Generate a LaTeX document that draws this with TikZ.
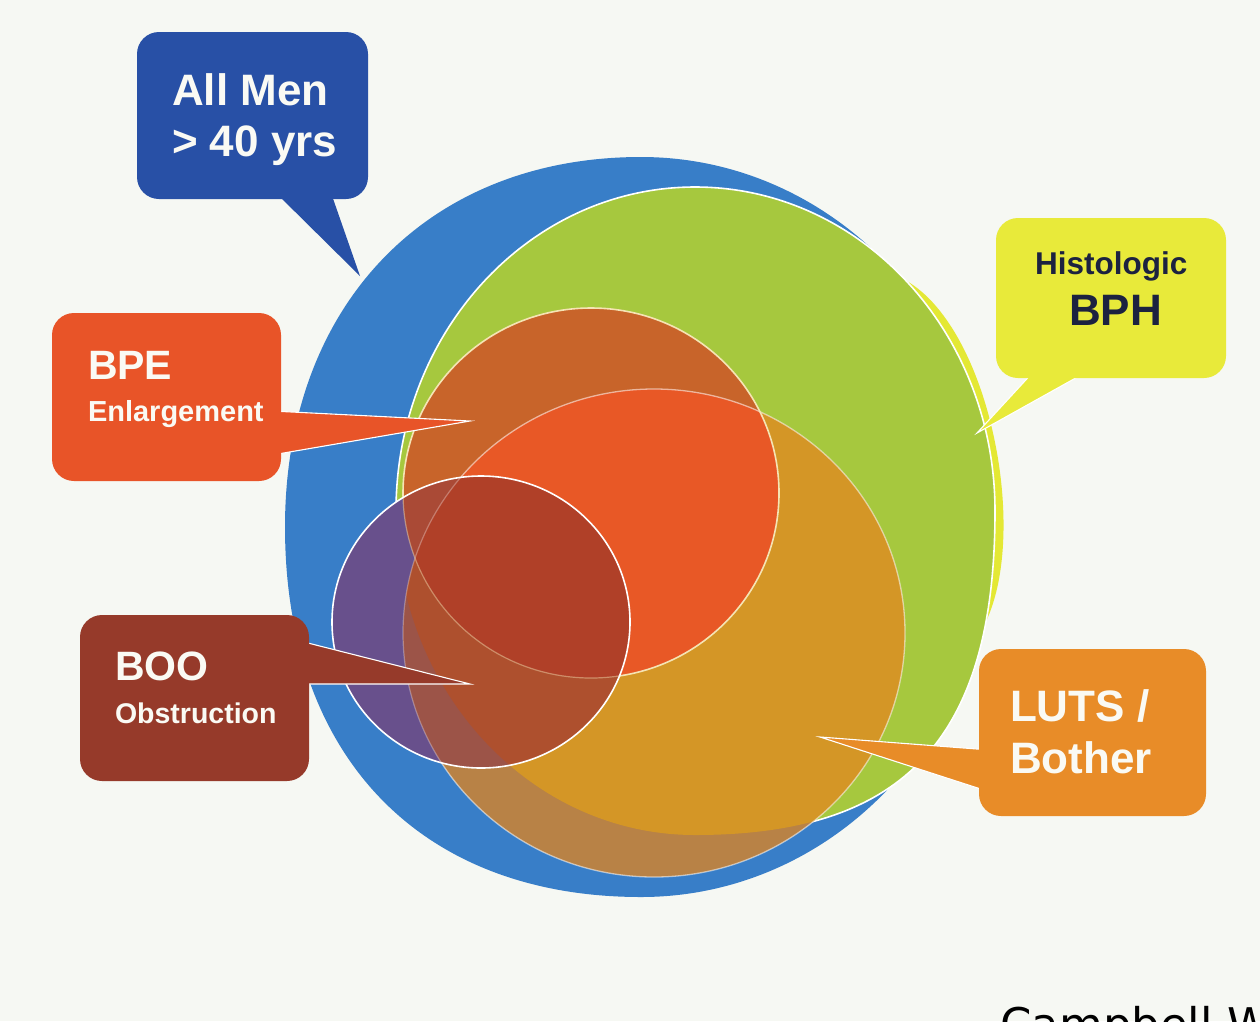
\documentclass[tikz,border=0pt]{standalone}
\usepackage{fontspec}
\setmainfont{Liberation Sans}
\newfontfamily\creditfont{DejaVu Sans}

\definecolor{paper}{RGB}{246,248,243}
\definecolor{menBlue}{RGB}{56,126,200}
\definecolor{ringYellow}{RGB}{228,232,52}
\definecolor{bphGreen}{RGB}{166,200,62}
\definecolor{lutsBrown}{RGB}{184,130,70}
\definecolor{lutsGold}{RGB}{212,150,38}
\definecolor{bpeDark}{RGB}{200,100,42}
\definecolor{bpeRed}{RGB}{232,88,38}
\definecolor{booPurple}{RGB}{104,80,140}
\definecolor{booLow}{RGB}{156,84,72}
\definecolor{booMid}{RGB}{174,80,46}
\definecolor{booTop}{RGB}{170,74,54}
\definecolor{booCore}{RGB}{176,64,40}
\definecolor{edgeCream}{RGB}{245,228,180}
\definecolor{calMen}{RGB}{40,80,166}
\definecolor{calBph}{RGB}{232,234,58}
\definecolor{calBpe}{RGB}{232,84,40}
\definecolor{calBoo}{RGB}{150,58,42}
\definecolor{calLuts}{RGB}{232,140,40}
\definecolor{navyText}{RGB}{28,34,64}
\definecolor{labelWhite}{RGB}{250,250,244}

% outlines of the nested sets (quarter arcs with their own radii)
\newcommand\shpBlue{(641,157)
  .. controls (834.3,157) and (991,322.6) .. (991,527)
  .. controls (991,731.4) and (834.3,897) .. (641,897)
  .. controls (420.3,897) and (285,756.4) .. (285,527)
  .. controls (285,305) and (427.4,157) .. (641,157) -- cycle}
\newcommand\shpGreen{(695,187)
  .. controls (860.7,187) and (995,332) .. (995,511)
  .. controls (995,738) and (905,835) .. (695,835)
  .. controls (529.9,835) and (396,690) .. (396,511)
  .. controls (396,332) and (529.9,187) .. (695,187) -- cycle}
\newcommand\shpLuts{(654,633) ellipse [x radius=251pt, y radius=244pt]}
\newcommand\shpBpe{(591,493) ellipse [x radius=188pt, y radius=185pt]}
\newcommand\shpBoo{(481,622) ellipse [x radius=149pt, y radius=146pt]}

\tikzset{
  callbox/.style={rounded corners=22pt, inner sep=0pt, outer sep=0pt},
  tailedge/.style={draw=white, line width=1.1pt, line join=miter},
  lbl/.style={anchor=base west, inner sep=0pt, outer sep=0pt, text=labelWhite},
  setedge/.style={line width=1.6pt},
}

\begin{document}
\begin{tikzpicture}[x=1pt, y=-1pt]
\useasboundingbox (0,0) rectangle (1260,1021);
\fill[paper] (0,0) rectangle (1260,1021);

% all men over 40
\fill[menBlue] \shpBlue;

% yellow rim beside the histologic set
\fill[ringYellow] (905,280) .. controls (995,330) and (1035,560) .. (975,640)
  -- (900,600) -- (900,300) -- cycle;

% histologic BPH
\fill[bphGreen] \shpGreen;
\draw[white, setedge] \shpGreen;

% LUTS / bother
\fill[lutsBrown] \shpLuts;
\begin{scope}
  \clip \shpLuts;
  \fill[lutsGold] \shpGreen;
\end{scope}

% BPE enlargement
\fill[bpeDark] \shpBpe;
\begin{scope}
  \clip \shpBpe;
  \fill[bpeRed] \shpLuts;
\end{scope}
\draw[white, opacity=0.55, line width=1.3pt] \shpLuts;
\draw[edgeCream, setedge] \shpBpe;

% BOO obstruction
\begin{scope}
  \clip \shpBoo;
  \fill[booPurple] \shpBoo;
  \fill[booLow] \shpLuts;
  \begin{scope}
    \clip \shpLuts;
    \fill[booMid] \shpGreen;
  \end{scope}
  \fill[booTop] \shpBpe;
  \begin{scope}
    \clip \shpLuts;
    \fill[booCore] \shpBpe;
  \end{scope}
  \draw[white, opacity=0.3, line width=1.2pt] \shpLuts;
  \draw[edgeCream, opacity=0.45, line width=1.2pt] \shpBpe;
\end{scope}
\draw[white, setedge] \shpBoo;

% callout: all men
\coordinate (menBaseA) at (273,190);
\coordinate (menBaseB) at (330,190);
\coordinate (menTip) at (360,276);
\fill[calMen] (menBaseA) -- (menTip) -- (menBaseB) -- cycle;
\node[callbox, fill=calMen, minimum width=231pt, minimum height=167pt] (menBox) at (252.5,115.5) {};
\node[lbl, font=\fontsize{44pt}{48pt}\selectfont\bfseries] (menLineA) at (172,105) {All Men};
\node[lbl, font=\fontsize{44pt}{48pt}\selectfont\bfseries] (menLineB) at (172,156) {> 40 yrs};

% callout: histologic BPH
\coordinate (bphBaseA) at (1035,370);
\coordinate (bphBaseB) at (1090,370);
\coordinate (bphTip) at (977,433);
\path[fill=calBph, tailedge] (bphBaseA) -- (bphTip) -- (bphBaseB);
\node[callbox, fill=calBph, minimum width=230pt, minimum height=160pt] (bphBox) at (1111,298) {};
\node[lbl, text=navyText, font=\fontsize{31.5pt}{36pt}\selectfont\bfseries] (bphLineA) at (1035,274) {Histologic};
\node[lbl, text=navyText, font=\fontsize{44pt}{48pt}\selectfont\bfseries] (bphLineB) at (1069,325) {BPH};

% callout: BPE
\coordinate (bpeBaseA) at (272,411);
\coordinate (bpeBaseB) at (272,455);
\coordinate (bpeTip) at (470,421);
\path[fill=calBpe, tailedge] (bpeBaseA) -- (bpeTip) -- (bpeBaseB);
\node[callbox, fill=calBpe, minimum width=229pt, minimum height=168pt] (bpeBox) at (166.5,397) {};
\node[lbl, font=\fontsize{41pt}{46pt}\selectfont\bfseries] (bpeLineA) at (88,379) {BPE};
\node[lbl, font=\fontsize{29pt}{34pt}\selectfont\bfseries] (bpeLineB) at (88,421) {Enlargement};

% callout: BOO
\coordinate (booBaseA) at (300,641);
\coordinate (booBaseB) at (300,684);
\coordinate (booTip) at (470,684);
\path[fill=calBoo, tailedge] (booBaseA) -- (booTip) -- (booBaseB);
\node[callbox, fill=calBoo, minimum width=229pt, minimum height=166pt] (booBox) at (194.5,698) {};
\node[lbl, font=\fontsize{41pt}{46pt}\selectfont\bfseries] (booLineA) at (115,680) {BOO};
\node[lbl, font=\fontsize{28.5pt}{33pt}\selectfont\bfseries] (booLineB) at (115,723) {Obstruction};

% callout: LUTS / bother
\coordinate (lutsBaseA) at (990,750);
\coordinate (lutsBaseB) at (990,792);
\coordinate (lutsTip) at (820,737);
\path[fill=calLuts, tailedge] (lutsBaseA) -- (lutsTip) -- (lutsBaseB);
\node[callbox, fill=calLuts, minimum width=227pt, minimum height=167pt] (lutsBox) at (1092.5,732.5) {};
\node[lbl, font=\fontsize{44pt}{48pt}\selectfont\bfseries] (lutsLineA) at (1010,721) {LUTS /};
\node[lbl, font=\fontsize{44pt}{48pt}\selectfont\bfseries] (lutsLineB) at (1010,773) {Bother};

% running credit at the foot of the page
\node[anchor=base west, inner sep=0pt, font=\creditfont\fontsize{45pt}{50pt}\selectfont] (credit) at (1000,1040) {Campbell-W};
\end{tikzpicture}
\end{document}
